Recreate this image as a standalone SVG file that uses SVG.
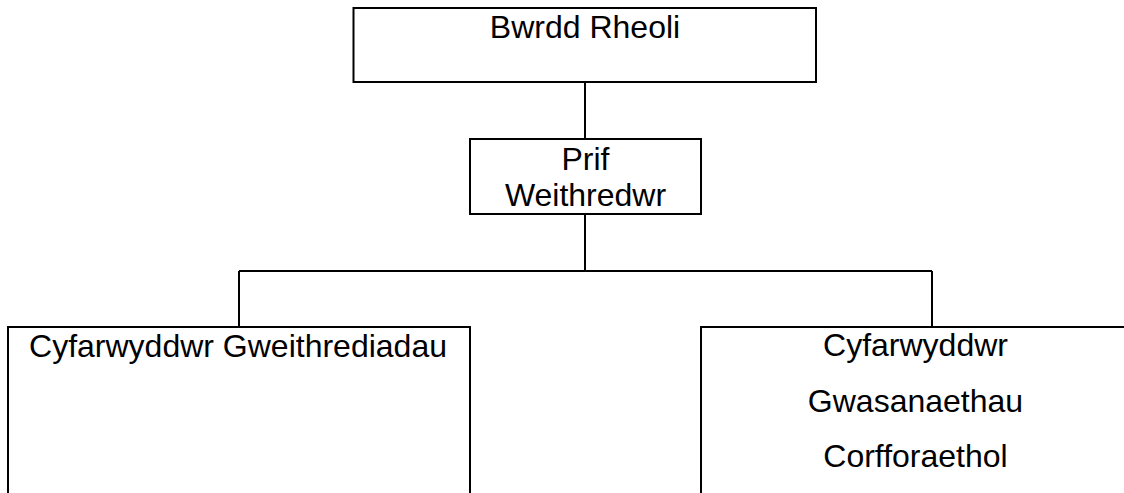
<svg xmlns="http://www.w3.org/2000/svg" width="1124" height="493" viewBox="0 0 1124 493">
<style>
.box{fill:#fff;stroke:#000;stroke-width:2}
.ln{fill:none;stroke:#000;stroke-width:2}
text{font-family:"Liberation Sans",Arial,sans-serif;font-size:32px;fill:#000;text-anchor:middle}
</style>
<rect width="1124" height="493" fill="#fff"/>
<g id="connectors">
<path class="ln" d="M585 82V139"/>
<path class="ln" d="M585 214V271"/>
<path class="ln" d="M239 271H932"/>
<path class="ln" d="M239 271V327"/>
<path class="ln" d="M932 271V327"/>
</g>
<g id="bwrdd-rheoli">
<rect class="box" x="353.5" y="8" width="462.5" height="74"/>
<text x="585" y="38">Bwrdd Rheoli</text>
</g>
<g id="prif-weithredwr">
<rect class="box" x="470" y="139" width="231" height="75"/>
<text x="585.5" y="170">Prif</text>
<text x="585.5" y="206">Weithredwr</text>
</g>
<g id="cyfarwyddwr-gweithrediadau">
<rect class="box" x="8" y="327" width="462" height="180"/>
<text x="238" y="357">Cyfarwyddwr Gweithrediadau</text>
</g>
<g id="cyfarwyddwr-gwasanaethau-corfforaethol">
<rect class="box" x="701" y="327" width="440" height="180"/>
<text x="915.5" y="356">Cyfarwyddwr</text>
<text x="915.5" y="411.5">Gwasanaethau</text>
<text x="915.5" y="466.5">Corfforaethol</text>
</g>
</svg>
